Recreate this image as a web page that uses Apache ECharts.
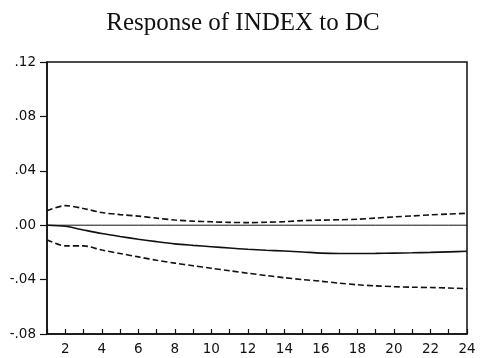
<!DOCTYPE html>
<html><head><meta charset="utf-8">
<script src="https://cdn.jsdelivr.net/npm/echarts@6/dist/echarts.min.js"></script>
<style>html,body{margin:0;padding:0;background:#fff}#c{width:486px;height:358px}</style>
</head><body><div id="c"></div>
<script>
var periods = [1,2,3,4,5,6,7,8,9,10,11,12,13,14,15,16,17,18,19,20,21,22,23,24];
var response = [0.0000,-0.0008,-0.0035,-0.0061,-0.0083,-0.0103,-0.0121,-0.0137,-0.0148,-0.0158,-0.0168,-0.0177,-0.0184,-0.0190,-0.0197,-0.0205,-0.0208,-0.0208,-0.0207,-0.0205,-0.0203,-0.0200,-0.0196,-0.0192];
var upperBand = [0.0106,0.0144,0.0123,0.0093,0.0078,0.0067,0.0052,0.0038,0.0030,0.0025,0.0021,0.0019,0.0022,0.0026,0.0034,0.0037,0.0040,0.0044,0.0052,0.0061,0.0068,0.0076,0.0082,0.0088];
var lowerBand = [-0.0107,-0.0152,-0.0152,-0.0183,-0.0208,-0.0233,-0.0258,-0.0279,-0.0298,-0.0317,-0.0335,-0.0353,-0.0370,-0.0386,-0.0400,-0.0412,-0.0426,-0.0438,-0.0446,-0.0452,-0.0456,-0.0458,-0.0462,-0.0467];
var zeroLine = periods.map(function(){return 0;});
var titleText = 'Response of INDEX to DC';

function pairs(arr){ return periods.map(function(p,i){ return [p, arr[i]]; }); }

var chart = echarts.init(document.getElementById('c'));
chart.setOption({
  animation: false,
  backgroundColor: '#fff',
  title: {
    text: titleText, left: 'center', top: 6,
    textStyle: {fontFamily: 'Liberation Serif', fontSize: 25, fontWeight: 'normal', color: '#111'}
  },
  grid: {left: 47, right: 19, top: 62, bottom: 24, show: true, borderColor: '#111', borderWidth: 1.5, backgroundColor: 'transparent'},
  xAxis: {
    type: 'value', min: 1, max: 24, interval: 1,
    axisLine: {show: true, onZero: false, lineStyle: {color: '#111', width: 1.5}},
    axisTick: {show: true, inside: true, length: 5, lineStyle: {color: '#111', width: 1.2}},
    splitLine: {show: false},
    axisLabel: {
      margin: 8, color: '#111', fontFamily: 'DejaVu Sans', fontSize: 13.5,
      formatter: function(v){ return (v % 2 === 0) ? String(v) : ''; }
    }
  },
  yAxis: {
    type: 'value', min: -0.08, max: 0.12, interval: 0.04,
    axisLine: {show: true, onZero: false, lineStyle: {color: '#111', width: 1.5}},
    axisTick: {show: true, inside: false, length: 7, lineStyle: {color: '#111', width: 1.2}},
    splitLine: {show: false},
    axisLabel: {
      margin: 11, color: '#111', fontFamily: 'DejaVu Sans', fontSize: 13.5,
      formatter: function(v){ return v.toFixed(2).replace('0.', '.'); }
    }
  },
  series: [
    {type: 'line', data: pairs(zeroLine), symbol: 'none', silent: true,
     lineStyle: {color: '#111', width: 1}},
    {type: 'line', data: pairs(upperBand), symbol: 'none', smooth: 0.3,
     lineStyle: {color: '#111', width: 1.6, type: [6, 3]}},
    {type: 'line', data: pairs(lowerBand), symbol: 'none', smooth: 0.3,
     lineStyle: {color: '#111', width: 1.6, type: [6, 3]}},
    {type: 'line', data: pairs(response), symbol: 'none', smooth: 0.3,
     lineStyle: {color: '#111', width: 1.6}}
  ]
});
</script>
</body></html>
